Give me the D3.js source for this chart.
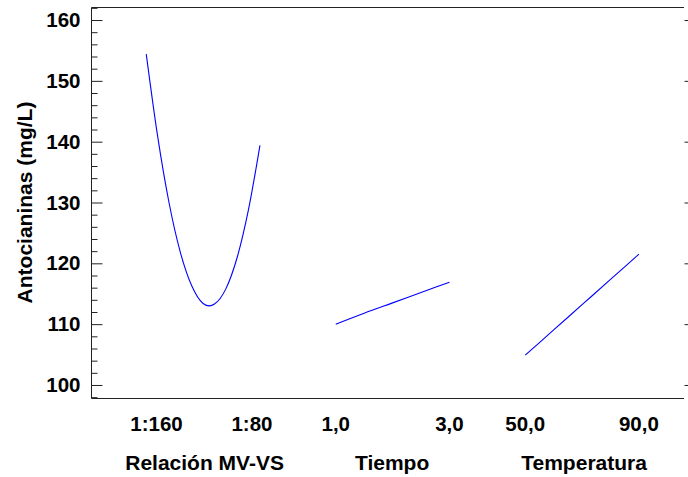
<!DOCTYPE html>
<html>
<head>
<meta charset="utf-8">
<script src="https://cdn.jsdelivr.net/npm/d3@7/dist/d3.min.js"></script>
<style>
  html, body { margin: 0; padding: 0; background: #fff; }
  svg { display: block; }
  text { font-family: "Liberation Sans", Arial, sans-serif; font-weight: bold; fill: #000; }
</style>
</head>
<body>
<svg id="chart" width="688" height="477"></svg>
<script>
// ---- data ----
const factors = ["Relación MV-VS", "Tiempo", "Temperatura"];
// Relación MV-VS (coded 0..1 along its range)
const mvX = [0, 0.1, 0.2, 0.3, 0.4, 0.5, 0.556, 0.6, 0.7, 0.8, 0.9, 1.0];
const mvY = [154.4, 140.9, 130.0, 121.8, 116.3, 113.4, 113.0, 113.3, 115.8, 121.0, 128.9, 139.4];
const mvTickVals = [0.09, 0.93];
const mvTickLabels = ["1:160", "1:80"];
// Tiempo
const tiempoX = [1.0, 1.5, 2.0, 2.5, 3.0];
const tiempoY = [110.0, 111.8, 113.5, 115.2, 116.9];
const tiempoTickVals = [1, 3];
const tiempoTickLabels = ["1,0", "3,0"];
// Temperatura
const tempX = [50, 60, 70, 80, 90];
const tempY = [104.9, 109.05, 113.2, 117.35, 121.5];
const tempTickVals = [50, 90];
const tempTickLabels = ["50,0", "90,0"];
// y axis
const yTicks = [100, 110, 120, 130, 140, 150, 160];
const yMinorTicks = d3.range(98, 163, 2).filter(v => v % 10 !== 0);
const yTitle = "Antocianinas (mg/L)";

// ---- layout ----
(function () {
const svg = d3.select("#chart");
const mLeft = 91, mRight = 686, mTop = 7, mBottom = 398;
const tickFont = "20.5px", titleFont = "21px";

const y = d3.scaleLinear().domain([97.86, 162.14]).range([mBottom, mTop]);
const band = d3.scaleBand().domain(factors).range([mLeft, mRight])
  .paddingInner(0.4).paddingOuter(0.27).align(0.54);

const panels = [
  { name: factors[0], xs: mvX, ys: mvY, domain: [0, 1], tv: mvTickVals, tl: mvTickLabels },
  { name: factors[1], xs: tiempoX, ys: tiempoY, domain: [1, 3], tv: tiempoTickVals, tl: tiempoTickLabels },
  { name: factors[2], xs: tempX, ys: tempY, domain: [50, 90], tv: tempTickVals, tl: tempTickLabels }
];

// frame
const frame = svg.append("g").attr("stroke", "#222").attr("stroke-width", 1).attr("fill", "none");
frame.append("path").attr("d", `M${mLeft + 0.5},${mTop + 0.5}H684M${mLeft + 0.5},${mTop + 0.5}V${mBottom + 0.5}H684`);

// y axis major
const yAxis = d3.axisLeft(y).tickValues(yTicks).tickSizeInner(-11).tickSizeOuter(0).tickPadding(11)
  .tickFormat(d3.format("d"));
const ga = svg.append("g").attr("transform", `translate(${mLeft + 0.5},0)`).call(yAxis);
ga.select(".domain").remove();
ga.selectAll(".tick line").attr("stroke", "#222");
ga.selectAll(".tick text").style("font-size", tickFont).style("font-family", "'Liberation Sans', Arial, sans-serif")
  .style("font-weight", "bold").attr("fill", "#000");

// y minor ticks
const yMinor = d3.axisLeft(y).tickValues(yMinorTicks).tickSizeInner(-6).tickSizeOuter(0).tickFormat("");
const gm = svg.append("g").attr("transform", `translate(${mLeft + 0.5},0)`).call(yMinor);
gm.select(".domain").remove();
gm.selectAll(".tick line").attr("stroke", "#222");

// right ticks
const yRight = d3.axisLeft(y).tickValues(yTicks).tickSizeInner(4).tickSizeOuter(0).tickFormat("");
const gr = svg.append("g").attr("transform", `translate(688.5,0)`).call(yRight);
gr.select(".domain").remove();
gr.selectAll(".tick line").attr("stroke", "#222");

// y title
svg.append("text")
  .attr("transform", `translate(32,${(mTop + mBottom) / 2}) rotate(-90)`)
  .attr("text-anchor", "middle")
  .style("font-size", titleFont)
  .text(yTitle);

// panels
panels.forEach(p => {
  const x0 = band(p.name);
  const xs = d3.scaleLinear().domain(p.domain).range([x0, x0 + band.bandwidth()]);
  const pts = p.xs.map((v, i) => [v, p.ys[i]]);
  const line = d3.line().x(d => xs(d[0])).y(d => y(d[1])).curve(d3.curveMonotoneX);
  svg.append("path").datum(pts)
    .attr("d", line)
    .attr("fill", "none")
    .attr("stroke", "#0000ff")
    .attr("stroke-width", 1.1);
  p.tv.forEach((tv, i) => {
    svg.append("text")
      .attr("x", xs(tv)).attr("y", 431)
      .attr("text-anchor", "middle")
      .style("font-size", tickFont)
      .text(p.tl[i]);
  });
  svg.append("text")
    .attr("x", x0 + band.bandwidth() / 2 + (p.name === factors[0] ? 1.5 : p.name === factors[1] ? -0.5 : 2))
    .attr("y", 470)
    .attr("text-anchor", "middle")
    .style("font-size", titleFont)
    .text(p.name);
});
})();
</script>
</body>
</html>
